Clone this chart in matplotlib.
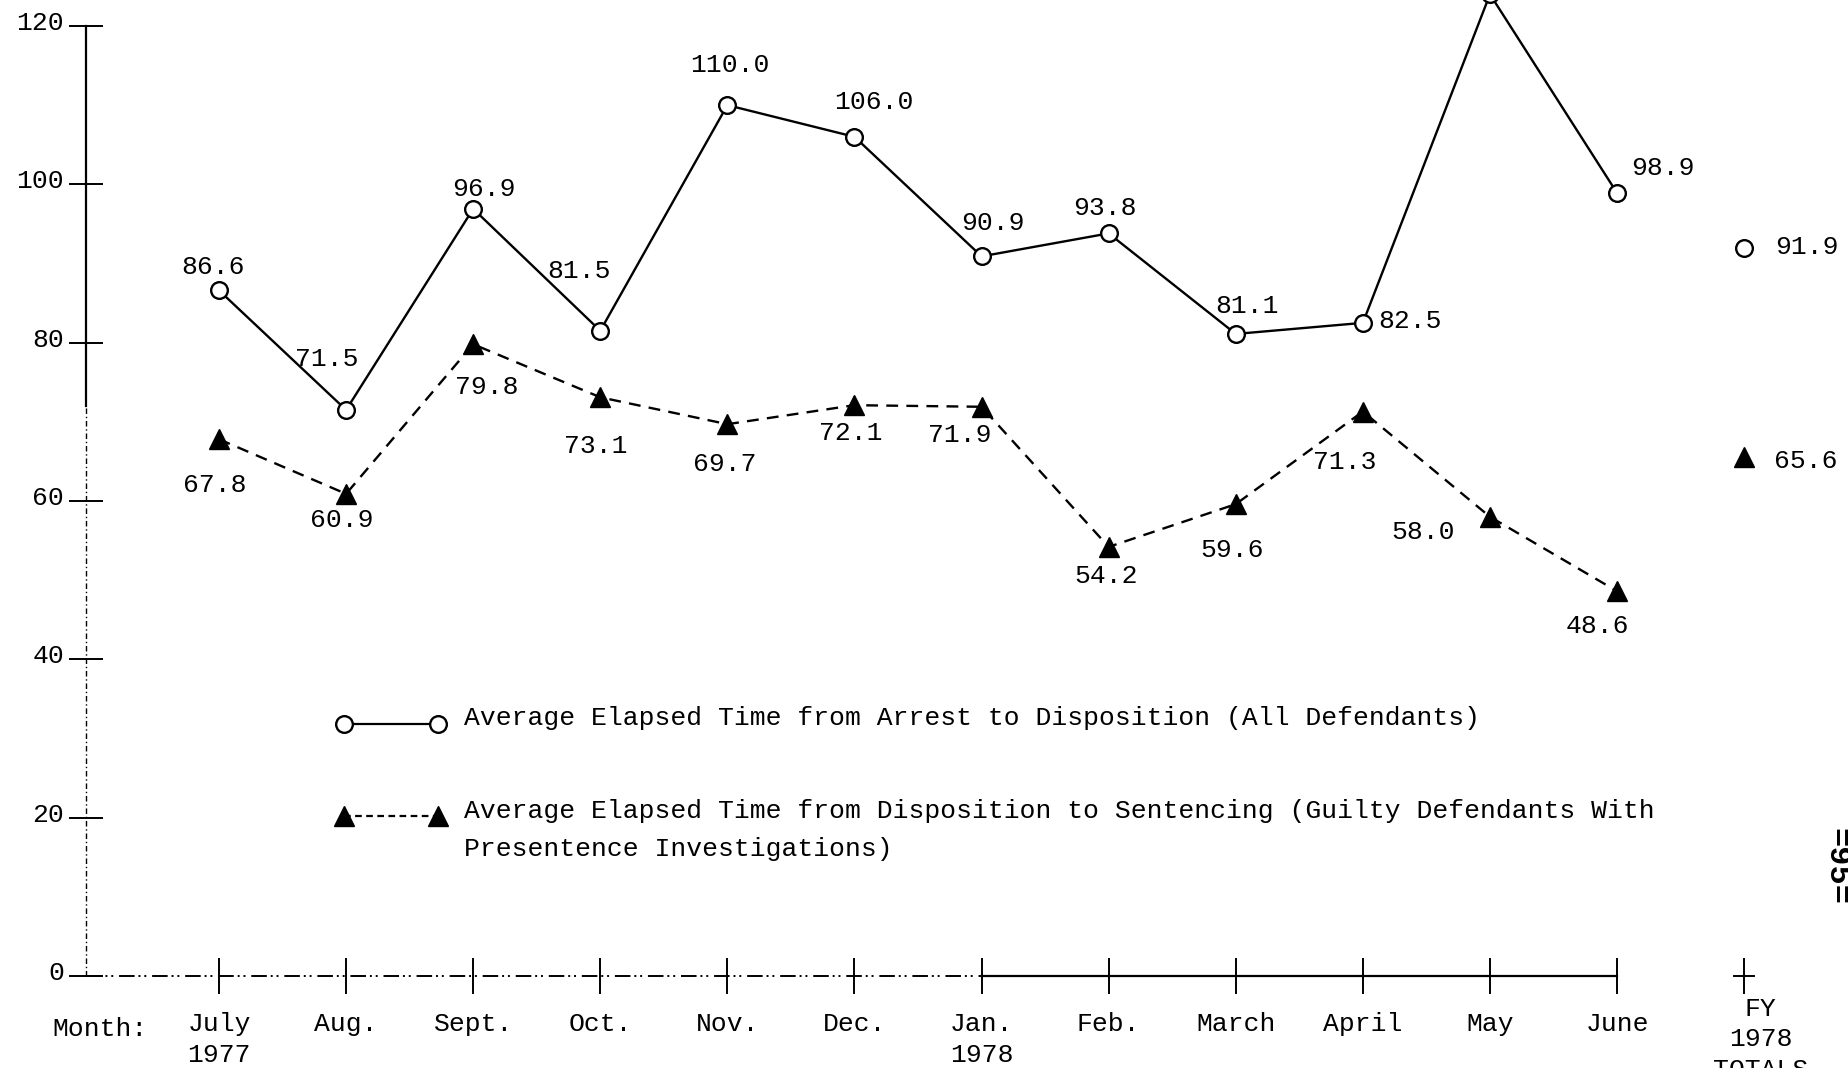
import numpy as np
import matplotlib
matplotlib.use("Agg")
import matplotlib.pyplot as plt
import matplotlib.transforms as mtransforms

plt.rcParams['font.family'] = ['Liberation Mono', 'DejaVu Sans Mono']

# data (days)
months = ["July\n1977", "Aug.", "Sept.", "Oct.", "Nov.", "Dec.", "Jan.\n1978",
          "Feb.", "March", "April", "May", "June"]
arrest = [86.6, 71.5, 96.9, 81.5, 110.0, 106.0, 90.9, 93.8, 81.1, 82.5, 124.0, 98.9]
arrest_labels = ["86.6", "71.5", "96.9", "81.5", "110.0", "106.0", "90.9", "93.8",
                 "81.1", "82.5", "", "98.9"]
sentencing = [67.8, 60.9, 79.8, 73.1, 69.7, 72.1, 71.9, 54.2, 59.6, 71.3, 58.0, 48.6]
fy_label = "FY\n1978\nTOTALS"
fy_arrest = 91.9
fy_sentencing = 65.6
yticks = [0, 20, 40, 60, 80, 100, 120]

legend_arrest = "Average Elapsed Time from Arrest to Disposition (All Defendants)"
legend_sent = ["Average Elapsed Time from Disposition to Sentencing (Guilty Defendants With",
               "Presentence Investigations)"]

# label offsets in points (dx, dy) - layout only
arrest_off = [(-4, 17), (-14, 37), (8, 14), (-15, 43), (2, 29), (14, 25), (8, 24),
              (-3, 18), (8, 20), (34, 1), (0, 20), (33, 18)]
sent_off = [(-3, -33), (-3, -19), (10, -31), (-3, -35), (-2, -29), (-3, -20), (-16, -20),
            (-2, -21), (-3, -33), (-13, -36), (-48, -11), (-14, -25)]

FS = 19
x = np.arange(len(months))
fy_x = len(months)

fig = plt.figure(figsize=(18.48, 10.68), dpi=100)
ax = fig.add_axes([0, 0, 1, 1])
ax.set_xlim(-1.723, 12.817)
ax.set_ylim(-11.62, 123.28)

circ = dict(marker='o', ms=12, mfc='white', mec='black', mew=1.7)
tri = dict(marker='^', ms=14, mfc='black', mec='black')

ax.plot(x, arrest, color='black', lw=1.7, **circ, zorder=3)
ax.plot(x, sentencing, color='black', lw=1.7, linestyle=(0, (5, 3.5)), **tri, zorder=3)
ax.plot([fy_x], [fy_arrest], linestyle='none', **circ)
ax.plot([fy_x], [fy_sentencing], linestyle='none', **tri)

for xi, v, t, (dx, dy) in zip(x, arrest, arrest_labels, arrest_off):
    if t:
        ax.annotate(t, (xi, v), xytext=(dx, dy), textcoords='offset points',
                    ha='center', va='center', fontsize=FS)
for xi, v, (dx, dy) in zip(x, sentencing, sent_off):
    ax.annotate(f"{v:.1f}", (xi, v), xytext=(dx, dy), textcoords='offset points',
                ha='center', va='center', fontsize=FS)
ax.annotate(f"{fy_arrest:.1f}", (fy_x, fy_arrest), xytext=(45, 1),
            textcoords='offset points', ha='center', va='center', fontsize=FS)
ax.annotate(f"{fy_sentencing:.1f}", (fy_x, fy_sentencing), xytext=(44, -3),
            textcoords='offset points', ha='center', va='center', fontsize=FS)

# axes drawn like the typed original
for s in ['top', 'right']:
    ax.spines[s].set_visible(False)
ax.spines['left'].set_position(('data', -1.05))
ax.spines['left'].set_bounds(72, 120)
ax.spines['left'].set_linewidth(1.6)
ax.spines['bottom'].set_position(('data', 0))
ax.spines['bottom'].set_bounds(6, 11)
ax.spines['bottom'].set_linewidth(1.6)
ax.plot([-1.05, -1.05], [0, 72], color='black', lw=1.0, linestyle=(0, (4, 2, 1, 2)))
ax.plot([-1.05, 6], [0, 0], color='black', lw=1.4, linestyle=(0, (8, 2, 1, 2, 1, 3)))
ax.plot([fy_x - 0.08, fy_x + 0.08], [0, 0], color='black', lw=1.4)

ax.set_yticks(yticks)
ax.set_yticklabels([str(t) for t in yticks])
ax.tick_params(axis='y', direction='inout', length=24, width=1.4, pad=3.5, labelsize=FS)
off = mtransforms.ScaledTranslation(0, -3 / 72, fig.dpi_scale_trans)
for lab in ax.get_yticklabels():
    lab.set_va('baseline')
    lab.set_transform(lab.get_transform() + off)

ax.set_xticks(list(x) + [fy_x])
ax.set_xticklabels(months + [fy_label], linespacing=1.35)
ax.tick_params(axis='x', direction='inout', length=26, width=1.4, pad=13, labelsize=FS)
# FY label sits a bit right of its tick in the original
fy_off = mtransforms.ScaledTranslation(12 / 72, 11 / 72, fig.dpi_scale_trans)
fy_lab = ax.get_xticklabels()[-1]
fy_lab.set_transform(fy_lab.get_transform() + fy_off)

ax.text(-0.94, -6.7, "Month:", ha='center', va='center', fontsize=FS)

# legend typed under the curves
ax.plot([0.98, 1.72], [31.8, 31.8], color='black', lw=1.6, **circ)
ax.text(1.93, 32.6, legend_arrest, ha='left', va='center', fontsize=FS)
ax.plot([0.98, 1.72], [20.2, 20.2], color='black', lw=1.6, linestyle=(0, (3, 2)), **tri)
ax.text(1.93, 20.8, legend_sent[0], ha='left', va='center', fontsize=FS)
ax.text(1.93, 16.0, legend_sent[1], ha='left', va='center', fontsize=FS)

fig.text(0.9935, 0.189, "=95=", rotation=-90, ha='center', va='center',
         fontsize=23, fontweight='bold')

fig.savefig("out.png", dpi=100)
